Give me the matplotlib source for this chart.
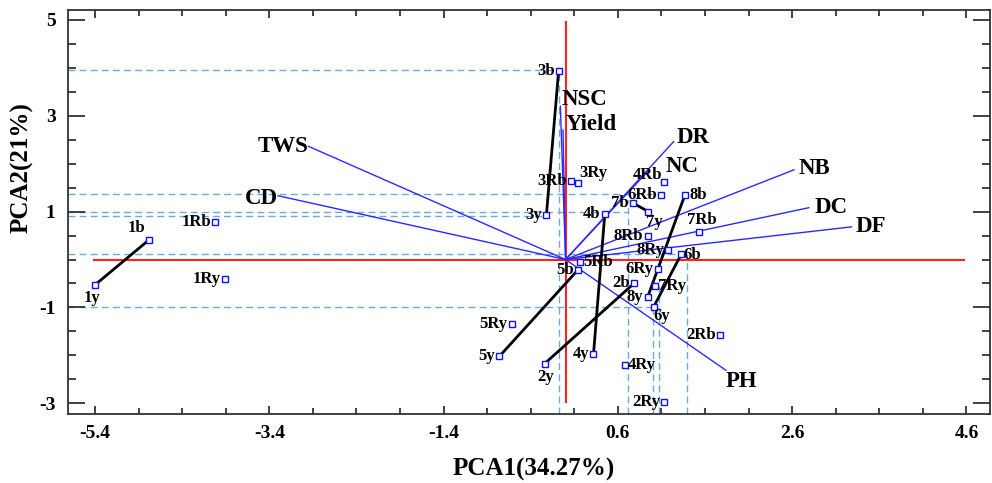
import matplotlib
matplotlib.use('Agg')
import matplotlib.pyplot as plt
from matplotlib.ticker import MultipleLocator

plt.rcParams['font.family'] = ['Liberation Serif', 'DejaVu Serif']
plt.rcParams['font.weight'] = 'bold'
plt.rcParams['axes.unicode_minus'] = False

# sample scores (PCA1, PCA2)
samples = ['1b', '1y', '1Rb', '1Ry', '2b', '2y', '2Rb', '2Ry',
           '3b', '3y', '3Rb', '3Ry', '4b', '4y', '4Rb', '4Ry',
           '5b', '5y', '5Rb', '5Ry', '6b', '6y', '6Rb', '6Ry',
           '7b', '7y', '7Rb', '7Ry', '8b', '8y', '8Rb', '8Ry']
pc1 = [-4.78, -5.40, -4.02, -3.91, 0.79, -0.24, 1.77, 1.13,
       -0.08, -0.22, 0.06, 0.14, 0.45, 0.32, 1.13, 0.68,
       0.14, -0.76, 0.16, -0.62, 1.33, 1.01, 1.10, 1.06,
       0.77, 0.95, 1.53, 1.03, 1.37, 0.94, 0.94, 1.18]
pc2 = [0.41, -0.53, 0.79, -0.41, -0.49, -2.17, -1.58, -2.98,
       3.93, 0.93, 1.64, 1.60, 0.95, -1.98, 1.62, -2.19,
       -0.22, -2.02, -0.05, -1.35, 0.12, -0.99, 1.35, -0.20,
       1.18, 1.00, 0.58, -0.55, 1.35, -0.79, 0.49, 0.20]

# trait loadings (vector tips)
traits = ['TWS', 'CD', 'NSC', 'Yield', 'DR', 'NC', 'NB', 'DC', 'DF', 'PH']
load1 = [-2.95, -3.30, -0.06, -0.03, 1.24, 0.95, 2.62, 2.79, 3.28, 1.84]
load2 = [2.36, 1.33, 3.20, 2.70, 2.46, 1.85, 1.87, 1.08, 0.68, -2.31]

# b -> y pairs joined by black lines
pairs = ['1', '2', '3', '4', '5', '6', '7', '8']

# dashed guide lines: horizontal (y, x_end) and vertical (x, y_top)
guide_h_y = [3.95, 1.36, 1.00, 0.91, 0.12, -0.99]
guide_h_x = [-0.08, 1.10, 0.72, -0.22, 1.33, 1.01]
guide_v_x = [-0.07, 0.72, 1.00, 1.07, 1.39]
guide_v_y = [3.93, 1.25, -0.99, -0.55, 0.12]

# label placement: (dx, dy, ha, va) in points
place = {
    '1y': (-2, -4, 'center', 'top'), '1b': (-3, 3, 'right', 'bottom'),
    '3Ry': (1, 1, 'left', 'bottom'), '4Rb': (-1, 5, 'right', 'center'),
    '8b': (3, 0, 'left', 'center'), '7y': (-2, -2, 'left', 'top'),
    '7Rb': (2, 3, 'center', 'bottom'), '6b': (1, -1, 'left', 'center'),
    '5Rb': (3, 0, 'left', 'center'), '7Ry': (2, 0, 'left', 'center'),
    '6y': (0, -1, 'left', 'top'), '2y': (1, -4, 'center', 'top'),
    '4Ry': (2, 0, 'left', 'center'),
}
trait_place = {'TWS': 'right', 'CD': 'right'}
trait_off = {'TWS': (0, 0), 'CD': (0, -2), 'NSC': (1, 5), 'Yield': (2, 4),
             'DR': (2, 3), 'NC': (12, 3), 'NB': (3, 1), 'DC': (4, 0),
             'DF': (3, 0), 'PH': (0, -8)}

fig = plt.figure(figsize=(9.92, 4.83), dpi=100)
ax = fig.add_axes([0.0685, 0.143, 0.9295, 0.836])

for y, xe in zip(guide_h_y, guide_h_x):
    ax.plot([-5.71, xe], [y, y], color='#6fa8dc', lw=1, ls=(0, (5, 3)), zorder=1)
for x, yt in zip(guide_v_x, guide_v_y):
    ax.plot([x, x], [-3.22, yt], color='#6fa8dc', lw=1, ls=(0, (5, 3)), zorder=1)

ax.plot([-5.41, 4.57], [0, 0], color='#ff2020', lw=1.5, zorder=2)
ax.plot([0, 0], [-2.98, 4.96], color='#ff2020', lw=1.5, zorder=2)

for t, a, b in zip(traits, load1, load2):
    ax.plot([0, a], [0, b], color='#2a2aff', lw=1, zorder=3)
    dx, dy = trait_off[t]
    ha = trait_place.get(t, 'left')
    ax.annotate(t, (a, b), xytext=(dx, dy), textcoords='offset points',
                ha=ha, va='center', fontsize=16.5, fontweight='bold', zorder=6)

pos = {s: (x, y) for s, x, y in zip(samples, pc1, pc2)}
for n in pairs:
    (xb, yb), (xy, yy) = pos[n + 'b'], pos[n + 'y']
    ax.plot([xb, xy], [yb, yy], color='black', lw=2, zorder=4)

ax.plot(pc1, pc2, ls='none', marker='s', ms=4.5, mfc='white', mec='#1010ff', mew=1, zorder=5)
for s, x, y in zip(samples, pc1, pc2):
    dx, dy, ha, va = place.get(s, (-3, 0, 'right', 'center'))
    ax.annotate(s, (x, y), xytext=(dx, dy), textcoords='offset points',
                ha=ha, va=va, fontsize=12, fontweight='bold', zorder=6)

ax.set_xlim(-5.71, 4.87)
ax.set_ylim(-3.22, 5.2)
ax.set_xticks([-5.4, -3.4, -1.4, 0.6, 2.6, 4.6])
ax.set_xticks([v / 2 - 5.4 for v in range(1, 21) if v % 4], minor=True)
ax.set_yticks([-3, -1, 1, 3, 5])
ax.yaxis.set_minor_locator(MultipleLocator(0.5))
ax.tick_params(axis='both', which='both', direction='in', top=True, right=True,
               width=1.3, color='#333333', labelsize=14)
ax.tick_params(axis='x', which='major', length=6, pad=8)
ax.tick_params(axis='x', which='minor', length=4)
ax.tick_params(axis='y', which='major', length=12, pad=9)
ax.tick_params(axis='y', which='minor', length=6)
for sp in ax.spines.values():
    sp.set_linewidth(1.3)
    sp.set_color('#333333')

ax.set_xlabel('PCA1(34.27%)', fontsize=18, fontweight='bold')
ax.xaxis.set_label_coords(0.505, -0.108)
ax.set_ylabel('PCA2(21%)', fontsize=18, fontweight='bold')
ax.yaxis.set_label_coords(-0.037, 0.61)

fig.savefig('out.png', dpi=100)
